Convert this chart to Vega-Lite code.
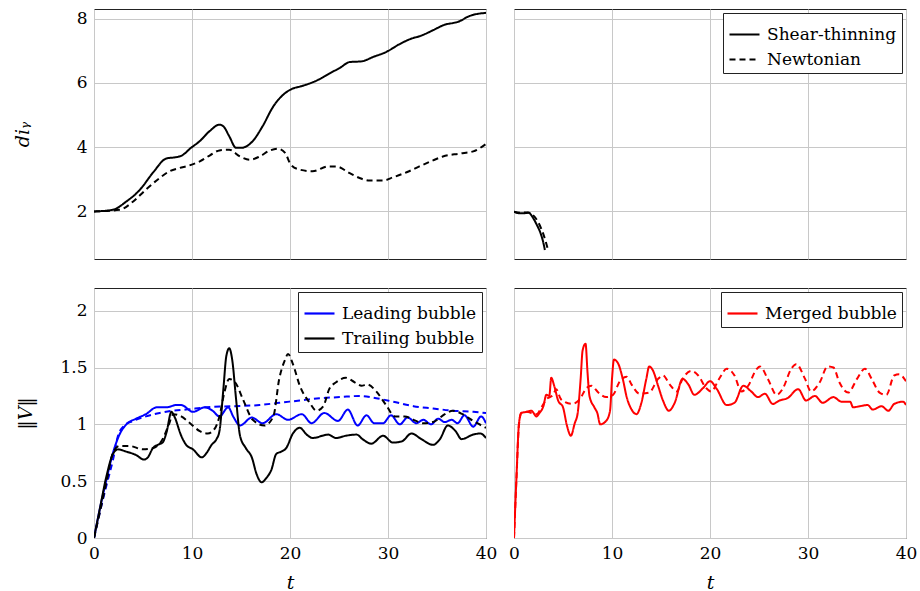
{
  "$schema": "https://vega.github.io/schema/vega-lite/v6.json",
  "padding": {"left": 12, "top": 8, "right": 2, "bottom": 2},
  "background": "white",
  "columns": 2,
  "spacing": {"row": 27, "column": 10},
  "datasets": {
    "dist_pre": [
      {"t": 0, "d": 2.0, "fluid": "Shear-thinning"},
      {"t": 1.9, "d": 2.05, "fluid": "Shear-thinning"},
      {"t": 3.3, "d": 2.31, "fluid": "Shear-thinning"},
      {"t": 4.7, "d": 2.68, "fluid": "Shear-thinning"},
      {"t": 6.0, "d": 3.2, "fluid": "Shear-thinning"},
      {"t": 7.4, "d": 3.65, "fluid": "Shear-thinning"},
      {"t": 8.4, "d": 3.69, "fluid": "Shear-thinning"},
      {"t": 8.9, "d": 3.73, "fluid": "Shear-thinning"},
      {"t": 9.9, "d": 3.98, "fluid": "Shear-thinning"},
      {"t": 10.8, "d": 4.19, "fluid": "Shear-thinning"},
      {"t": 11.8, "d": 4.5, "fluid": "Shear-thinning"},
      {"t": 12.8, "d": 4.7, "fluid": "Shear-thinning"},
      {"t": 13.2, "d": 4.65, "fluid": "Shear-thinning"},
      {"t": 13.8, "d": 4.34, "fluid": "Shear-thinning"},
      {"t": 14.5, "d": 3.98, "fluid": "Shear-thinning"},
      {"t": 15.0, "d": 3.98, "fluid": "Shear-thinning"},
      {"t": 16.2, "d": 4.19, "fluid": "Shear-thinning"},
      {"t": 17.2, "d": 4.65, "fluid": "Shear-thinning"},
      {"t": 18.3, "d": 5.27, "fluid": "Shear-thinning"},
      {"t": 19.3, "d": 5.63, "fluid": "Shear-thinning"},
      {"t": 20.1, "d": 5.8, "fluid": "Shear-thinning"},
      {"t": 21.3, "d": 5.91, "fluid": "Shear-thinning"},
      {"t": 22.7, "d": 6.07, "fluid": "Shear-thinning"},
      {"t": 24.0, "d": 6.29, "fluid": "Shear-thinning"},
      {"t": 25.1, "d": 6.47, "fluid": "Shear-thinning"},
      {"t": 26.1, "d": 6.65, "fluid": "Shear-thinning"},
      {"t": 27.3, "d": 6.67, "fluid": "Shear-thinning"},
      {"t": 28.5, "d": 6.81, "fluid": "Shear-thinning"},
      {"t": 29.8, "d": 6.96, "fluid": "Shear-thinning"},
      {"t": 31.2, "d": 7.21, "fluid": "Shear-thinning"},
      {"t": 32.4, "d": 7.38, "fluid": "Shear-thinning"},
      {"t": 33.2, "d": 7.45, "fluid": "Shear-thinning"},
      {"t": 34.6, "d": 7.64, "fluid": "Shear-thinning"},
      {"t": 35.6, "d": 7.79, "fluid": "Shear-thinning"},
      {"t": 37.3, "d": 7.92, "fluid": "Shear-thinning"},
      {"t": 38.3, "d": 8.08, "fluid": "Shear-thinning"},
      {"t": 40.0, "d": 8.18, "fluid": "Shear-thinning"},
      {"t": 0, "d": 2.0, "fluid": "Newtonian"},
      {"t": 2.6, "d": 2.05, "fluid": "Newtonian"},
      {"t": 4.0, "d": 2.31, "fluid": "Newtonian"},
      {"t": 5.3, "d": 2.68, "fluid": "Newtonian"},
      {"t": 6.7, "d": 3.04, "fluid": "Newtonian"},
      {"t": 7.7, "d": 3.25, "fluid": "Newtonian"},
      {"t": 8.7, "d": 3.35, "fluid": "Newtonian"},
      {"t": 9.7, "d": 3.43, "fluid": "Newtonian"},
      {"t": 10.8, "d": 3.56, "fluid": "Newtonian"},
      {"t": 11.8, "d": 3.74, "fluid": "Newtonian"},
      {"t": 12.8, "d": 3.9, "fluid": "Newtonian"},
      {"t": 13.8, "d": 3.92, "fluid": "Newtonian"},
      {"t": 14.9, "d": 3.71, "fluid": "Newtonian"},
      {"t": 15.9, "d": 3.61, "fluid": "Newtonian"},
      {"t": 16.9, "d": 3.71, "fluid": "Newtonian"},
      {"t": 17.9, "d": 3.89, "fluid": "Newtonian"},
      {"t": 18.8, "d": 3.95, "fluid": "Newtonian"},
      {"t": 19.5, "d": 3.82, "fluid": "Newtonian"},
      {"t": 20.1, "d": 3.45, "fluid": "Newtonian"},
      {"t": 21.0, "d": 3.3, "fluid": "Newtonian"},
      {"t": 22.3, "d": 3.25, "fluid": "Newtonian"},
      {"t": 23.9, "d": 3.4, "fluid": "Newtonian"},
      {"t": 24.7, "d": 3.4, "fluid": "Newtonian"},
      {"t": 26.1, "d": 3.19, "fluid": "Newtonian"},
      {"t": 27.1, "d": 3.04, "fluid": "Newtonian"},
      {"t": 28.1, "d": 2.96, "fluid": "Newtonian"},
      {"t": 29.5, "d": 2.96, "fluid": "Newtonian"},
      {"t": 30.5, "d": 3.06, "fluid": "Newtonian"},
      {"t": 31.9, "d": 3.22, "fluid": "Newtonian"},
      {"t": 33.2, "d": 3.4, "fluid": "Newtonian"},
      {"t": 34.6, "d": 3.59, "fluid": "Newtonian"},
      {"t": 35.6, "d": 3.71, "fluid": "Newtonian"},
      {"t": 37.3, "d": 3.8, "fluid": "Newtonian"},
      {"t": 38.7, "d": 3.87, "fluid": "Newtonian"},
      {"t": 40.0, "d": 4.1, "fluid": "Newtonian"}
    ],
    "dist_post": [
      {"t": 0, "d": 1.99, "fluid": "Shear-thinning"},
      {"t": 0.6, "d": 1.94, "fluid": "Shear-thinning"},
      {"t": 1.2, "d": 1.95, "fluid": "Shear-thinning"},
      {"t": 1.5, "d": 1.96, "fluid": "Shear-thinning"},
      {"t": 1.9, "d": 1.82, "fluid": "Shear-thinning"},
      {"t": 2.3, "d": 1.6, "fluid": "Shear-thinning"},
      {"t": 2.7, "d": 1.33, "fluid": "Shear-thinning"},
      {"t": 3.0, "d": 1.02, "fluid": "Shear-thinning"},
      {"t": 3.15, "d": 0.8, "fluid": "Shear-thinning"},
      {"t": 0, "d": 1.99, "fluid": "Newtonian"},
      {"t": 0.7, "d": 1.96, "fluid": "Newtonian"},
      {"t": 1.4, "d": 1.97, "fluid": "Newtonian"},
      {"t": 1.9, "d": 1.9, "fluid": "Newtonian"},
      {"t": 2.4, "d": 1.7, "fluid": "Newtonian"},
      {"t": 2.8, "d": 1.45, "fluid": "Newtonian"},
      {"t": 3.2, "d": 1.1, "fluid": "Newtonian"},
      {"t": 3.5, "d": 0.77, "fluid": "Newtonian"}
    ],
    "vel_pre": [
      {"t": 0, "v": 0, "bubble": "Leading bubble", "fluid": "Shear-thinning"},
      {"t": 0.58, "v": 0.25, "bubble": "Leading bubble", "fluid": "Shear-thinning"},
      {"t": 1.26, "v": 0.51, "bubble": "Leading bubble", "fluid": "Shear-thinning"},
      {"t": 1.94, "v": 0.75, "bubble": "Leading bubble", "fluid": "Shear-thinning"},
      {"t": 2.6, "v": 0.91, "bubble": "Leading bubble", "fluid": "Shear-thinning"},
      {"t": 3.3, "v": 1.0, "bubble": "Leading bubble", "fluid": "Shear-thinning"},
      {"t": 4.3, "v": 1.05, "bubble": "Leading bubble", "fluid": "Shear-thinning"},
      {"t": 5.3, "v": 1.09, "bubble": "Leading bubble", "fluid": "Shear-thinning"},
      {"t": 6.4, "v": 1.15, "bubble": "Leading bubble", "fluid": "Shear-thinning"},
      {"t": 7.4, "v": 1.15, "bubble": "Leading bubble", "fluid": "Shear-thinning"},
      {"t": 8.4, "v": 1.17, "bubble": "Leading bubble", "fluid": "Shear-thinning"},
      {"t": 8.9, "v": 1.17, "bubble": "Leading bubble", "fluid": "Shear-thinning"},
      {"t": 10.1, "v": 1.11, "bubble": "Leading bubble", "fluid": "Shear-thinning"},
      {"t": 11.3, "v": 1.15, "bubble": "Leading bubble", "fluid": "Shear-thinning"},
      {"t": 12.1, "v": 1.12, "bubble": "Leading bubble", "fluid": "Shear-thinning"},
      {"t": 12.8, "v": 1.07, "bubble": "Leading bubble", "fluid": "Shear-thinning"},
      {"t": 13.7, "v": 1.15, "bubble": "Leading bubble", "fluid": "Shear-thinning"},
      {"t": 14.2, "v": 1.07, "bubble": "Leading bubble", "fluid": "Shear-thinning"},
      {"t": 14.9, "v": 0.99, "bubble": "Leading bubble", "fluid": "Shear-thinning"},
      {"t": 16.1, "v": 1.06, "bubble": "Leading bubble", "fluid": "Shear-thinning"},
      {"t": 17.2, "v": 1.01, "bubble": "Leading bubble", "fluid": "Shear-thinning"},
      {"t": 18.6, "v": 1.09, "bubble": "Leading bubble", "fluid": "Shear-thinning"},
      {"t": 19.8, "v": 1.04, "bubble": "Leading bubble", "fluid": "Shear-thinning"},
      {"t": 21.2, "v": 1.09, "bubble": "Leading bubble", "fluid": "Shear-thinning"},
      {"t": 22.2, "v": 1.01, "bubble": "Leading bubble", "fluid": "Shear-thinning"},
      {"t": 23.5, "v": 1.1, "bubble": "Leading bubble", "fluid": "Shear-thinning"},
      {"t": 24.9, "v": 1.03, "bubble": "Leading bubble", "fluid": "Shear-thinning"},
      {"t": 25.9, "v": 1.13, "bubble": "Leading bubble", "fluid": "Shear-thinning"},
      {"t": 26.9, "v": 0.99, "bubble": "Leading bubble", "fluid": "Shear-thinning"},
      {"t": 27.8, "v": 1.08, "bubble": "Leading bubble", "fluid": "Shear-thinning"},
      {"t": 28.6, "v": 1.01, "bubble": "Leading bubble", "fluid": "Shear-thinning"},
      {"t": 29.5, "v": 1.01, "bubble": "Leading bubble", "fluid": "Shear-thinning"},
      {"t": 30.3, "v": 1.08, "bubble": "Leading bubble", "fluid": "Shear-thinning"},
      {"t": 31.2, "v": 1.0, "bubble": "Leading bubble", "fluid": "Shear-thinning"},
      {"t": 32.0, "v": 1.06, "bubble": "Leading bubble", "fluid": "Shear-thinning"},
      {"t": 32.9, "v": 1.01, "bubble": "Leading bubble", "fluid": "Shear-thinning"},
      {"t": 33.6, "v": 1.04, "bubble": "Leading bubble", "fluid": "Shear-thinning"},
      {"t": 34.4, "v": 1.0, "bubble": "Leading bubble", "fluid": "Shear-thinning"},
      {"t": 35.1, "v": 1.05, "bubble": "Leading bubble", "fluid": "Shear-thinning"},
      {"t": 35.8, "v": 1.02, "bubble": "Leading bubble", "fluid": "Shear-thinning"},
      {"t": 36.5, "v": 1.04, "bubble": "Leading bubble", "fluid": "Shear-thinning"},
      {"t": 37.1, "v": 1.01, "bubble": "Leading bubble", "fluid": "Shear-thinning"},
      {"t": 37.8, "v": 1.08, "bubble": "Leading bubble", "fluid": "Shear-thinning"},
      {"t": 38.7, "v": 0.98, "bubble": "Leading bubble", "fluid": "Shear-thinning"},
      {"t": 39.5, "v": 1.07, "bubble": "Leading bubble", "fluid": "Shear-thinning"},
      {"t": 40.0, "v": 1.01, "bubble": "Leading bubble", "fluid": "Shear-thinning"},
      {"t": 0, "v": 0, "bubble": "Leading bubble", "fluid": "Newtonian"},
      {"t": 0.58, "v": 0.22, "bubble": "Leading bubble", "fluid": "Newtonian"},
      {"t": 1.26, "v": 0.46, "bubble": "Leading bubble", "fluid": "Newtonian"},
      {"t": 1.94, "v": 0.69, "bubble": "Leading bubble", "fluid": "Newtonian"},
      {"t": 2.45, "v": 0.9, "bubble": "Leading bubble", "fluid": "Newtonian"},
      {"t": 3.1, "v": 0.99, "bubble": "Leading bubble", "fluid": "Newtonian"},
      {"t": 4.0, "v": 1.03, "bubble": "Leading bubble", "fluid": "Newtonian"},
      {"t": 5.3, "v": 1.07, "bubble": "Leading bubble", "fluid": "Newtonian"},
      {"t": 6.7, "v": 1.1, "bubble": "Leading bubble", "fluid": "Newtonian"},
      {"t": 8.1, "v": 1.12, "bubble": "Leading bubble", "fluid": "Newtonian"},
      {"t": 9.4, "v": 1.13, "bubble": "Leading bubble", "fluid": "Newtonian"},
      {"t": 11.5, "v": 1.15, "bubble": "Leading bubble", "fluid": "Newtonian"},
      {"t": 14.2, "v": 1.16, "bubble": "Leading bubble", "fluid": "Newtonian"},
      {"t": 16.9, "v": 1.17, "bubble": "Leading bubble", "fluid": "Newtonian"},
      {"t": 18.9, "v": 1.19, "bubble": "Leading bubble", "fluid": "Newtonian"},
      {"t": 21.0, "v": 1.21, "bubble": "Leading bubble", "fluid": "Newtonian"},
      {"t": 23.0, "v": 1.23, "bubble": "Leading bubble", "fluid": "Newtonian"},
      {"t": 25.1, "v": 1.24, "bubble": "Leading bubble", "fluid": "Newtonian"},
      {"t": 27.1, "v": 1.25, "bubble": "Leading bubble", "fluid": "Newtonian"},
      {"t": 28.8, "v": 1.23, "bubble": "Leading bubble", "fluid": "Newtonian"},
      {"t": 30.5, "v": 1.2, "bubble": "Leading bubble", "fluid": "Newtonian"},
      {"t": 32.6, "v": 1.16, "bubble": "Leading bubble", "fluid": "Newtonian"},
      {"t": 34.6, "v": 1.14, "bubble": "Leading bubble", "fluid": "Newtonian"},
      {"t": 36.6, "v": 1.12, "bubble": "Leading bubble", "fluid": "Newtonian"},
      {"t": 38.7, "v": 1.11, "bubble": "Leading bubble", "fluid": "Newtonian"},
      {"t": 40.0, "v": 1.1, "bubble": "Leading bubble", "fluid": "Newtonian"},
      {"t": 0, "v": 0, "bubble": "Trailing bubble", "fluid": "Shear-thinning"},
      {"t": 0.58, "v": 0.25, "bubble": "Trailing bubble", "fluid": "Shear-thinning"},
      {"t": 1.26, "v": 0.54, "bubble": "Trailing bubble", "fluid": "Shear-thinning"},
      {"t": 1.94, "v": 0.74, "bubble": "Trailing bubble", "fluid": "Shear-thinning"},
      {"t": 2.45, "v": 0.78, "bubble": "Trailing bubble", "fluid": "Shear-thinning"},
      {"t": 3.3, "v": 0.76, "bubble": "Trailing bubble", "fluid": "Shear-thinning"},
      {"t": 4.3, "v": 0.73, "bubble": "Trailing bubble", "fluid": "Shear-thinning"},
      {"t": 5.1, "v": 0.69, "bubble": "Trailing bubble", "fluid": "Shear-thinning"},
      {"t": 5.5, "v": 0.71, "bubble": "Trailing bubble", "fluid": "Shear-thinning"},
      {"t": 6.0, "v": 0.79, "bubble": "Trailing bubble", "fluid": "Shear-thinning"},
      {"t": 6.5, "v": 0.82, "bubble": "Trailing bubble", "fluid": "Shear-thinning"},
      {"t": 7.0, "v": 0.84, "bubble": "Trailing bubble", "fluid": "Shear-thinning"},
      {"t": 7.4, "v": 0.93, "bubble": "Trailing bubble", "fluid": "Shear-thinning"},
      {"t": 7.9, "v": 1.11, "bubble": "Trailing bubble", "fluid": "Shear-thinning"},
      {"t": 8.2, "v": 1.07, "bubble": "Trailing bubble", "fluid": "Shear-thinning"},
      {"t": 8.9, "v": 0.9, "bubble": "Trailing bubble", "fluid": "Shear-thinning"},
      {"t": 9.4, "v": 0.82, "bubble": "Trailing bubble", "fluid": "Shear-thinning"},
      {"t": 10.1, "v": 0.78, "bubble": "Trailing bubble", "fluid": "Shear-thinning"},
      {"t": 11.0, "v": 0.71, "bubble": "Trailing bubble", "fluid": "Shear-thinning"},
      {"t": 11.5, "v": 0.75, "bubble": "Trailing bubble", "fluid": "Shear-thinning"},
      {"t": 12.0, "v": 0.82, "bubble": "Trailing bubble", "fluid": "Shear-thinning"},
      {"t": 12.5, "v": 0.87, "bubble": "Trailing bubble", "fluid": "Shear-thinning"},
      {"t": 12.8, "v": 0.94, "bubble": "Trailing bubble", "fluid": "Shear-thinning"},
      {"t": 13.2, "v": 1.31, "bubble": "Trailing bubble", "fluid": "Shear-thinning"},
      {"t": 13.5, "v": 1.6, "bubble": "Trailing bubble", "fluid": "Shear-thinning"},
      {"t": 13.8, "v": 1.67, "bubble": "Trailing bubble", "fluid": "Shear-thinning"},
      {"t": 14.1, "v": 1.57, "bubble": "Trailing bubble", "fluid": "Shear-thinning"},
      {"t": 14.5, "v": 1.22, "bubble": "Trailing bubble", "fluid": "Shear-thinning"},
      {"t": 14.9, "v": 0.9, "bubble": "Trailing bubble", "fluid": "Shear-thinning"},
      {"t": 15.5, "v": 0.79, "bubble": "Trailing bubble", "fluid": "Shear-thinning"},
      {"t": 16.1, "v": 0.71, "bubble": "Trailing bubble", "fluid": "Shear-thinning"},
      {"t": 16.6, "v": 0.56, "bubble": "Trailing bubble", "fluid": "Shear-thinning"},
      {"t": 17.1, "v": 0.49, "bubble": "Trailing bubble", "fluid": "Shear-thinning"},
      {"t": 17.6, "v": 0.53, "bubble": "Trailing bubble", "fluid": "Shear-thinning"},
      {"t": 18.1, "v": 0.6, "bubble": "Trailing bubble", "fluid": "Shear-thinning"},
      {"t": 18.6, "v": 0.74, "bubble": "Trailing bubble", "fluid": "Shear-thinning"},
      {"t": 19.1, "v": 0.76, "bubble": "Trailing bubble", "fluid": "Shear-thinning"},
      {"t": 19.6, "v": 0.79, "bubble": "Trailing bubble", "fluid": "Shear-thinning"},
      {"t": 20.3, "v": 0.92, "bubble": "Trailing bubble", "fluid": "Shear-thinning"},
      {"t": 21.0, "v": 0.97, "bubble": "Trailing bubble", "fluid": "Shear-thinning"},
      {"t": 21.7, "v": 0.91, "bubble": "Trailing bubble", "fluid": "Shear-thinning"},
      {"t": 22.3, "v": 0.88, "bubble": "Trailing bubble", "fluid": "Shear-thinning"},
      {"t": 23.9, "v": 0.91, "bubble": "Trailing bubble", "fluid": "Shear-thinning"},
      {"t": 24.7, "v": 0.88, "bubble": "Trailing bubble", "fluid": "Shear-thinning"},
      {"t": 25.7, "v": 0.9, "bubble": "Trailing bubble", "fluid": "Shear-thinning"},
      {"t": 26.8, "v": 0.91, "bubble": "Trailing bubble", "fluid": "Shear-thinning"},
      {"t": 27.4, "v": 0.87, "bubble": "Trailing bubble", "fluid": "Shear-thinning"},
      {"t": 28.3, "v": 0.83, "bubble": "Trailing bubble", "fluid": "Shear-thinning"},
      {"t": 29.5, "v": 0.9, "bubble": "Trailing bubble", "fluid": "Shear-thinning"},
      {"t": 30.5, "v": 0.84, "bubble": "Trailing bubble", "fluid": "Shear-thinning"},
      {"t": 31.4, "v": 0.85, "bubble": "Trailing bubble", "fluid": "Shear-thinning"},
      {"t": 32.4, "v": 0.92, "bubble": "Trailing bubble", "fluid": "Shear-thinning"},
      {"t": 33.4, "v": 0.87, "bubble": "Trailing bubble", "fluid": "Shear-thinning"},
      {"t": 34.6, "v": 0.82, "bubble": "Trailing bubble", "fluid": "Shear-thinning"},
      {"t": 35.3, "v": 0.87, "bubble": "Trailing bubble", "fluid": "Shear-thinning"},
      {"t": 36.1, "v": 0.99, "bubble": "Trailing bubble", "fluid": "Shear-thinning"},
      {"t": 36.9, "v": 0.94, "bubble": "Trailing bubble", "fluid": "Shear-thinning"},
      {"t": 37.5, "v": 0.87, "bubble": "Trailing bubble", "fluid": "Shear-thinning"},
      {"t": 38.7, "v": 0.91, "bubble": "Trailing bubble", "fluid": "Shear-thinning"},
      {"t": 39.4, "v": 0.92, "bubble": "Trailing bubble", "fluid": "Shear-thinning"},
      {"t": 40.0, "v": 0.88, "bubble": "Trailing bubble", "fluid": "Shear-thinning"},
      {"t": 0, "v": 0, "bubble": "Trailing bubble", "fluid": "Newtonian"},
      {"t": 0.58, "v": 0.22, "bubble": "Trailing bubble", "fluid": "Newtonian"},
      {"t": 1.26, "v": 0.49, "bubble": "Trailing bubble", "fluid": "Newtonian"},
      {"t": 1.94, "v": 0.75, "bubble": "Trailing bubble", "fluid": "Newtonian"},
      {"t": 2.6, "v": 0.81, "bubble": "Trailing bubble", "fluid": "Newtonian"},
      {"t": 3.6, "v": 0.81, "bubble": "Trailing bubble", "fluid": "Newtonian"},
      {"t": 5.0, "v": 0.78, "bubble": "Trailing bubble", "fluid": "Newtonian"},
      {"t": 6.0, "v": 0.79, "bubble": "Trailing bubble", "fluid": "Newtonian"},
      {"t": 7.0, "v": 0.87, "bubble": "Trailing bubble", "fluid": "Newtonian"},
      {"t": 7.6, "v": 0.99, "bubble": "Trailing bubble", "fluid": "Newtonian"},
      {"t": 8.1, "v": 1.09, "bubble": "Trailing bubble", "fluid": "Newtonian"},
      {"t": 8.9, "v": 1.07, "bubble": "Trailing bubble", "fluid": "Newtonian"},
      {"t": 9.8, "v": 1.01, "bubble": "Trailing bubble", "fluid": "Newtonian"},
      {"t": 10.8, "v": 0.94, "bubble": "Trailing bubble", "fluid": "Newtonian"},
      {"t": 11.6, "v": 0.92, "bubble": "Trailing bubble", "fluid": "Newtonian"},
      {"t": 12.3, "v": 0.96, "bubble": "Trailing bubble", "fluid": "Newtonian"},
      {"t": 12.8, "v": 1.07, "bubble": "Trailing bubble", "fluid": "Newtonian"},
      {"t": 13.3, "v": 1.28, "bubble": "Trailing bubble", "fluid": "Newtonian"},
      {"t": 13.8, "v": 1.4, "bubble": "Trailing bubble", "fluid": "Newtonian"},
      {"t": 14.4, "v": 1.37, "bubble": "Trailing bubble", "fluid": "Newtonian"},
      {"t": 15.2, "v": 1.22, "bubble": "Trailing bubble", "fluid": "Newtonian"},
      {"t": 16.2, "v": 1.04, "bubble": "Trailing bubble", "fluid": "Newtonian"},
      {"t": 17.4, "v": 0.99, "bubble": "Trailing bubble", "fluid": "Newtonian"},
      {"t": 18.3, "v": 1.07, "bubble": "Trailing bubble", "fluid": "Newtonian"},
      {"t": 18.9, "v": 1.4, "bubble": "Trailing bubble", "fluid": "Newtonian"},
      {"t": 19.5, "v": 1.57, "bubble": "Trailing bubble", "fluid": "Newtonian"},
      {"t": 19.8, "v": 1.62, "bubble": "Trailing bubble", "fluid": "Newtonian"},
      {"t": 20.3, "v": 1.53, "bubble": "Trailing bubble", "fluid": "Newtonian"},
      {"t": 21.0, "v": 1.34, "bubble": "Trailing bubble", "fluid": "Newtonian"},
      {"t": 22.0, "v": 1.19, "bubble": "Trailing bubble", "fluid": "Newtonian"},
      {"t": 22.7, "v": 1.12, "bubble": "Trailing bubble", "fluid": "Newtonian"},
      {"t": 23.4, "v": 1.16, "bubble": "Trailing bubble", "fluid": "Newtonian"},
      {"t": 24.0, "v": 1.31, "bubble": "Trailing bubble", "fluid": "Newtonian"},
      {"t": 24.7, "v": 1.37, "bubble": "Trailing bubble", "fluid": "Newtonian"},
      {"t": 25.7, "v": 1.41, "bubble": "Trailing bubble", "fluid": "Newtonian"},
      {"t": 26.6, "v": 1.37, "bubble": "Trailing bubble", "fluid": "Newtonian"},
      {"t": 27.3, "v": 1.34, "bubble": "Trailing bubble", "fluid": "Newtonian"},
      {"t": 27.9, "v": 1.35, "bubble": "Trailing bubble", "fluid": "Newtonian"},
      {"t": 28.8, "v": 1.29, "bubble": "Trailing bubble", "fluid": "Newtonian"},
      {"t": 29.8, "v": 1.17, "bubble": "Trailing bubble", "fluid": "Newtonian"},
      {"t": 30.7, "v": 1.07, "bubble": "Trailing bubble", "fluid": "Newtonian"},
      {"t": 31.7, "v": 1.07, "bubble": "Trailing bubble", "fluid": "Newtonian"},
      {"t": 32.6, "v": 1.04, "bubble": "Trailing bubble", "fluid": "Newtonian"},
      {"t": 33.6, "v": 1.01, "bubble": "Trailing bubble", "fluid": "Newtonian"},
      {"t": 34.6, "v": 1.02, "bubble": "Trailing bubble", "fluid": "Newtonian"},
      {"t": 35.8, "v": 1.09, "bubble": "Trailing bubble", "fluid": "Newtonian"},
      {"t": 36.6, "v": 1.12, "bubble": "Trailing bubble", "fluid": "Newtonian"},
      {"t": 37.6, "v": 1.09, "bubble": "Trailing bubble", "fluid": "Newtonian"},
      {"t": 38.7, "v": 1.03, "bubble": "Trailing bubble", "fluid": "Newtonian"},
      {"t": 40.0, "v": 0.97, "bubble": "Trailing bubble", "fluid": "Newtonian"}
    ],
    "vel_post": [
      {"t": 0, "v": 0, "bubble": "Merged bubble", "fluid": "Shear-thinning"},
      {"t": 0.24, "v": 0.51, "bubble": "Merged bubble", "fluid": "Shear-thinning"},
      {"t": 0.51, "v": 1.01, "bubble": "Merged bubble", "fluid": "Shear-thinning"},
      {"t": 0.75, "v": 1.1, "bubble": "Merged bubble", "fluid": "Shear-thinning"},
      {"t": 1.26, "v": 1.11, "bubble": "Merged bubble", "fluid": "Shear-thinning"},
      {"t": 1.77, "v": 1.12, "bubble": "Merged bubble", "fluid": "Shear-thinning"},
      {"t": 2.3, "v": 1.07, "bubble": "Merged bubble", "fluid": "Shear-thinning"},
      {"t": 2.6, "v": 1.1, "bubble": "Merged bubble", "fluid": "Shear-thinning"},
      {"t": 3.0, "v": 1.16, "bubble": "Merged bubble", "fluid": "Shear-thinning"},
      {"t": 3.3, "v": 1.26, "bubble": "Merged bubble", "fluid": "Shear-thinning"},
      {"t": 3.6, "v": 1.25, "bubble": "Merged bubble", "fluid": "Shear-thinning"},
      {"t": 3.8, "v": 1.41, "bubble": "Merged bubble", "fluid": "Shear-thinning"},
      {"t": 4.1, "v": 1.34, "bubble": "Merged bubble", "fluid": "Shear-thinning"},
      {"t": 4.5, "v": 1.21, "bubble": "Merged bubble", "fluid": "Shear-thinning"},
      {"t": 5.0, "v": 1.15, "bubble": "Merged bubble", "fluid": "Shear-thinning"},
      {"t": 5.4, "v": 0.99, "bubble": "Merged bubble", "fluid": "Shear-thinning"},
      {"t": 5.8, "v": 0.9, "bubble": "Merged bubble", "fluid": "Shear-thinning"},
      {"t": 6.2, "v": 1.01, "bubble": "Merged bubble", "fluid": "Shear-thinning"},
      {"t": 6.5, "v": 1.1, "bubble": "Merged bubble", "fluid": "Shear-thinning"},
      {"t": 6.8, "v": 1.4, "bubble": "Merged bubble", "fluid": "Shear-thinning"},
      {"t": 7.0, "v": 1.65, "bubble": "Merged bubble", "fluid": "Shear-thinning"},
      {"t": 7.3, "v": 1.71, "bubble": "Merged bubble", "fluid": "Shear-thinning"},
      {"t": 7.5, "v": 1.46, "bubble": "Merged bubble", "fluid": "Shear-thinning"},
      {"t": 7.7, "v": 1.25, "bubble": "Merged bubble", "fluid": "Shear-thinning"},
      {"t": 8.2, "v": 1.15, "bubble": "Merged bubble", "fluid": "Shear-thinning"},
      {"t": 8.5, "v": 1.1, "bubble": "Merged bubble", "fluid": "Shear-thinning"},
      {"t": 8.8, "v": 1.0, "bubble": "Merged bubble", "fluid": "Shear-thinning"},
      {"t": 9.4, "v": 1.03, "bubble": "Merged bubble", "fluid": "Shear-thinning"},
      {"t": 9.8, "v": 1.12, "bubble": "Merged bubble", "fluid": "Shear-thinning"},
      {"t": 10.0, "v": 1.4, "bubble": "Merged bubble", "fluid": "Shear-thinning"},
      {"t": 10.2, "v": 1.57, "bubble": "Merged bubble", "fluid": "Shear-thinning"},
      {"t": 10.6, "v": 1.54, "bubble": "Merged bubble", "fluid": "Shear-thinning"},
      {"t": 11.1, "v": 1.4, "bubble": "Merged bubble", "fluid": "Shear-thinning"},
      {"t": 11.5, "v": 1.24, "bubble": "Merged bubble", "fluid": "Shear-thinning"},
      {"t": 12.0, "v": 1.13, "bubble": "Merged bubble", "fluid": "Shear-thinning"},
      {"t": 12.5, "v": 1.09, "bubble": "Merged bubble", "fluid": "Shear-thinning"},
      {"t": 13.0, "v": 1.19, "bubble": "Merged bubble", "fluid": "Shear-thinning"},
      {"t": 13.5, "v": 1.4, "bubble": "Merged bubble", "fluid": "Shear-thinning"},
      {"t": 13.8, "v": 1.51, "bubble": "Merged bubble", "fluid": "Shear-thinning"},
      {"t": 14.2, "v": 1.47, "bubble": "Merged bubble", "fluid": "Shear-thinning"},
      {"t": 14.7, "v": 1.34, "bubble": "Merged bubble", "fluid": "Shear-thinning"},
      {"t": 15.2, "v": 1.21, "bubble": "Merged bubble", "fluid": "Shear-thinning"},
      {"t": 15.8, "v": 1.12, "bubble": "Merged bubble", "fluid": "Shear-thinning"},
      {"t": 16.4, "v": 1.19, "bubble": "Merged bubble", "fluid": "Shear-thinning"},
      {"t": 17.2, "v": 1.4, "bubble": "Merged bubble", "fluid": "Shear-thinning"},
      {"t": 17.8, "v": 1.35, "bubble": "Merged bubble", "fluid": "Shear-thinning"},
      {"t": 18.4, "v": 1.26, "bubble": "Merged bubble", "fluid": "Shear-thinning"},
      {"t": 19.3, "v": 1.32, "bubble": "Merged bubble", "fluid": "Shear-thinning"},
      {"t": 20.0, "v": 1.38, "bubble": "Merged bubble", "fluid": "Shear-thinning"},
      {"t": 20.7, "v": 1.31, "bubble": "Merged bubble", "fluid": "Shear-thinning"},
      {"t": 21.7, "v": 1.17, "bubble": "Merged bubble", "fluid": "Shear-thinning"},
      {"t": 22.5, "v": 1.19, "bubble": "Merged bubble", "fluid": "Shear-thinning"},
      {"t": 23.4, "v": 1.34, "bubble": "Merged bubble", "fluid": "Shear-thinning"},
      {"t": 24.2, "v": 1.29, "bubble": "Merged bubble", "fluid": "Shear-thinning"},
      {"t": 24.9, "v": 1.24, "bubble": "Merged bubble", "fluid": "Shear-thinning"},
      {"t": 25.6, "v": 1.27, "bubble": "Merged bubble", "fluid": "Shear-thinning"},
      {"t": 26.4, "v": 1.18, "bubble": "Merged bubble", "fluid": "Shear-thinning"},
      {"t": 27.1, "v": 1.21, "bubble": "Merged bubble", "fluid": "Shear-thinning"},
      {"t": 27.9, "v": 1.23, "bubble": "Merged bubble", "fluid": "Shear-thinning"},
      {"t": 29.0, "v": 1.31, "bubble": "Merged bubble", "fluid": "Shear-thinning"},
      {"t": 29.8, "v": 1.21, "bubble": "Merged bubble", "fluid": "Shear-thinning"},
      {"t": 30.7, "v": 1.25, "bubble": "Merged bubble", "fluid": "Shear-thinning"},
      {"t": 31.5, "v": 1.19, "bubble": "Merged bubble", "fluid": "Shear-thinning"},
      {"t": 32.6, "v": 1.24, "bubble": "Merged bubble", "fluid": "Shear-thinning"},
      {"t": 33.4, "v": 1.2, "bubble": "Merged bubble", "fluid": "Shear-thinning"},
      {"t": 34.3, "v": 1.2, "bubble": "Merged bubble", "fluid": "Shear-thinning"},
      {"t": 34.6, "v": 1.15, "bubble": "Merged bubble", "fluid": "Shear-thinning"},
      {"t": 35.3, "v": 1.16, "bubble": "Merged bubble", "fluid": "Shear-thinning"},
      {"t": 36.1, "v": 1.17, "bubble": "Merged bubble", "fluid": "Shear-thinning"},
      {"t": 36.6, "v": 1.13, "bubble": "Merged bubble", "fluid": "Shear-thinning"},
      {"t": 37.5, "v": 1.16, "bubble": "Merged bubble", "fluid": "Shear-thinning"},
      {"t": 38.2, "v": 1.12, "bubble": "Merged bubble", "fluid": "Shear-thinning"},
      {"t": 38.8, "v": 1.18, "bubble": "Merged bubble", "fluid": "Shear-thinning"},
      {"t": 39.7, "v": 1.2, "bubble": "Merged bubble", "fluid": "Shear-thinning"},
      {"t": 40.0, "v": 1.17, "bubble": "Merged bubble", "fluid": "Shear-thinning"},
      {"t": 0, "v": 0, "bubble": "Merged bubble", "fluid": "Newtonian"},
      {"t": 0.24, "v": 0.5, "bubble": "Merged bubble", "fluid": "Newtonian"},
      {"t": 0.51, "v": 1.0, "bubble": "Merged bubble", "fluid": "Newtonian"},
      {"t": 0.75, "v": 1.1, "bubble": "Merged bubble", "fluid": "Newtonian"},
      {"t": 1.26, "v": 1.11, "bubble": "Merged bubble", "fluid": "Newtonian"},
      {"t": 2.3, "v": 1.09, "bubble": "Merged bubble", "fluid": "Newtonian"},
      {"t": 2.8, "v": 1.15, "bubble": "Merged bubble", "fluid": "Newtonian"},
      {"t": 3.3, "v": 1.22, "bubble": "Merged bubble", "fluid": "Newtonian"},
      {"t": 4.0, "v": 1.26, "bubble": "Merged bubble", "fluid": "Newtonian"},
      {"t": 4.3, "v": 1.31, "bubble": "Merged bubble", "fluid": "Newtonian"},
      {"t": 4.8, "v": 1.22, "bubble": "Merged bubble", "fluid": "Newtonian"},
      {"t": 5.9, "v": 1.18, "bubble": "Merged bubble", "fluid": "Newtonian"},
      {"t": 6.7, "v": 1.22, "bubble": "Merged bubble", "fluid": "Newtonian"},
      {"t": 7.4, "v": 1.32, "bubble": "Merged bubble", "fluid": "Newtonian"},
      {"t": 7.9, "v": 1.34, "bubble": "Merged bubble", "fluid": "Newtonian"},
      {"t": 8.6, "v": 1.28, "bubble": "Merged bubble", "fluid": "Newtonian"},
      {"t": 9.4, "v": 1.24, "bubble": "Merged bubble", "fluid": "Newtonian"},
      {"t": 10.1, "v": 1.26, "bubble": "Merged bubble", "fluid": "Newtonian"},
      {"t": 10.8, "v": 1.38, "bubble": "Merged bubble", "fluid": "Newtonian"},
      {"t": 11.5, "v": 1.42, "bubble": "Merged bubble", "fluid": "Newtonian"},
      {"t": 12.0, "v": 1.35, "bubble": "Merged bubble", "fluid": "Newtonian"},
      {"t": 12.8, "v": 1.27, "bubble": "Merged bubble", "fluid": "Newtonian"},
      {"t": 13.8, "v": 1.28, "bubble": "Merged bubble", "fluid": "Newtonian"},
      {"t": 14.7, "v": 1.4, "bubble": "Merged bubble", "fluid": "Newtonian"},
      {"t": 15.2, "v": 1.43, "bubble": "Merged bubble", "fluid": "Newtonian"},
      {"t": 15.9, "v": 1.35, "bubble": "Merged bubble", "fluid": "Newtonian"},
      {"t": 16.6, "v": 1.29, "bubble": "Merged bubble", "fluid": "Newtonian"},
      {"t": 17.2, "v": 1.4, "bubble": "Merged bubble", "fluid": "Newtonian"},
      {"t": 18.1, "v": 1.47, "bubble": "Merged bubble", "fluid": "Newtonian"},
      {"t": 18.8, "v": 1.43, "bubble": "Merged bubble", "fluid": "Newtonian"},
      {"t": 19.6, "v": 1.32, "bubble": "Merged bubble", "fluid": "Newtonian"},
      {"t": 20.1, "v": 1.29, "bubble": "Merged bubble", "fluid": "Newtonian"},
      {"t": 21.0, "v": 1.41, "bubble": "Merged bubble", "fluid": "Newtonian"},
      {"t": 21.7, "v": 1.49, "bubble": "Merged bubble", "fluid": "Newtonian"},
      {"t": 22.5, "v": 1.43, "bubble": "Merged bubble", "fluid": "Newtonian"},
      {"t": 23.2, "v": 1.29, "bubble": "Merged bubble", "fluid": "Newtonian"},
      {"t": 23.9, "v": 1.34, "bubble": "Merged bubble", "fluid": "Newtonian"},
      {"t": 24.7, "v": 1.48, "bubble": "Merged bubble", "fluid": "Newtonian"},
      {"t": 25.1, "v": 1.51, "bubble": "Merged bubble", "fluid": "Newtonian"},
      {"t": 25.9, "v": 1.4, "bubble": "Merged bubble", "fluid": "Newtonian"},
      {"t": 26.8, "v": 1.26, "bubble": "Merged bubble", "fluid": "Newtonian"},
      {"t": 27.4, "v": 1.31, "bubble": "Merged bubble", "fluid": "Newtonian"},
      {"t": 28.3, "v": 1.49, "bubble": "Merged bubble", "fluid": "Newtonian"},
      {"t": 28.8, "v": 1.53, "bubble": "Merged bubble", "fluid": "Newtonian"},
      {"t": 29.7, "v": 1.4, "bubble": "Merged bubble", "fluid": "Newtonian"},
      {"t": 30.3, "v": 1.29, "bubble": "Merged bubble", "fluid": "Newtonian"},
      {"t": 31.2, "v": 1.37, "bubble": "Merged bubble", "fluid": "Newtonian"},
      {"t": 32.0, "v": 1.51, "bubble": "Merged bubble", "fluid": "Newtonian"},
      {"t": 32.6, "v": 1.5, "bubble": "Merged bubble", "fluid": "Newtonian"},
      {"t": 33.2, "v": 1.37, "bubble": "Merged bubble", "fluid": "Newtonian"},
      {"t": 34.1, "v": 1.28, "bubble": "Merged bubble", "fluid": "Newtonian"},
      {"t": 35.0, "v": 1.4, "bubble": "Merged bubble", "fluid": "Newtonian"},
      {"t": 35.8, "v": 1.49, "bubble": "Merged bubble", "fluid": "Newtonian"},
      {"t": 36.5, "v": 1.4, "bubble": "Merged bubble", "fluid": "Newtonian"},
      {"t": 37.3, "v": 1.28, "bubble": "Merged bubble", "fluid": "Newtonian"},
      {"t": 38.0, "v": 1.26, "bubble": "Merged bubble", "fluid": "Newtonian"},
      {"t": 38.8, "v": 1.43, "bubble": "Merged bubble", "fluid": "Newtonian"},
      {"t": 39.3, "v": 1.44, "bubble": "Merged bubble", "fluid": "Newtonian"},
      {"t": 40.0, "v": 1.38, "bubble": "Merged bubble", "fluid": "Newtonian"}
    ]
  },
  "concat": [
    {
      "width": 392, "height": 250,
      "data": {"name": "dist_pre"},
      "mark": {"type": "line", "strokeWidth": 2, "color": "black", "clip": true, "interpolate": "monotone"},
      "encoding": {
        "x": {"field": "t", "type": "quantitative", "scale": {"domain": [0, 40], "nice": false}, "axis": {"values": [0, 10, 20, 30, 40], "labels": false, "title": null}},
        "y": {"field": "d", "type": "quantitative", "scale": {"domain": [0.52, 8.3], "nice": false, "zero": false}, "axis": {"values": [2, 4, 6, 8], "format": "~g", "title": "diᵧ", "titleX": -72}},
        "strokeDash": {"field": "fluid", "type": "nominal", "scale": {"domain": ["Shear-thinning", "Newtonian"], "range": [[1, 0], [6, 4]]}, "legend": null}
      }
    },
    {
      "width": 392, "height": 250,
      "data": {"name": "dist_post"},
      "mark": {"type": "line", "strokeWidth": 2, "color": "black", "clip": true, "interpolate": "monotone"},
      "encoding": {
        "x": {"field": "t", "type": "quantitative", "scale": {"domain": [0, 40], "nice": false}, "axis": {"values": [0, 10, 20, 30, 40], "labels": false, "title": null}},
        "y": {"field": "d", "type": "quantitative", "scale": {"domain": [0.52, 8.3], "nice": false, "zero": false}, "axis": {"values": [2, 4, 6, 8], "labels": false, "title": null}},
        "strokeDash": {"field": "fluid", "type": "nominal", "title": null, "scale": {"domain": ["Shear-thinning", "Newtonian"], "range": [[1, 0], [6, 4]]}, "legend": {"symbolStrokeColor": "black"}}
      }
    },
    {
      "width": 392, "height": 250,
      "data": {"name": "vel_pre"},
      "mark": {"type": "line", "strokeWidth": 2, "clip": true, "interpolate": "monotone"},
      "encoding": {
        "x": {"field": "t", "type": "quantitative", "scale": {"domain": [0, 40], "nice": false}, "axis": {"values": [0, 10, 20, 30, 40], "title": "t", "titleY": 44}},
        "y": {"field": "v", "type": "quantitative", "scale": {"domain": [0, 2.2], "nice": false}, "axis": {"values": [0, 0.5, 1, 1.5, 2], "format": "~g", "title": "‖V‖", "titleX": -69}},
        "color": {"field": "bubble", "type": "nominal", "title": null, "scale": {"domain": ["Leading bubble", "Trailing bubble"], "range": ["#0000ff", "#000000"]}},
        "strokeDash": {"field": "fluid", "type": "nominal", "scale": {"domain": ["Shear-thinning", "Newtonian"], "range": [[1, 0], [6, 4]]}, "legend": null}
      }
    },
    {
      "width": 392, "height": 250,
      "data": {"name": "vel_post"},
      "mark": {"type": "line", "strokeWidth": 2, "clip": true, "interpolate": "monotone"},
      "encoding": {
        "x": {"field": "t", "type": "quantitative", "scale": {"domain": [0, 40], "nice": false}, "axis": {"values": [0, 10, 20, 30, 40], "title": "t", "titleY": 44}},
        "y": {"field": "v", "type": "quantitative", "scale": {"domain": [0, 2.2], "nice": false}, "axis": {"values": [0, 0.5, 1, 1.5, 2], "labels": false, "title": null}},
        "color": {"field": "bubble", "type": "nominal", "title": null, "scale": {"domain": ["Merged bubble"], "range": ["#ff0000"]}},
        "strokeDash": {"field": "fluid", "type": "nominal", "scale": {"domain": ["Shear-thinning", "Newtonian"], "range": [[1, 0], [6, 4]]}, "legend": null}
      }
    }
  ],
  "resolve": {
    "scale": {"color": "independent", "strokeDash": "independent"},
    "legend": {"color": "independent", "strokeDash": "independent"}
  },
  "config": {
    "font": "DejaVu Serif",
    "view": {"stroke": "#222222", "strokeWidth": 1},
    "axis": {
      "domain": false,
      "ticks": false,
      "grid": true,
      "gridColor": "#c8c8c8",
      "gridWidth": 1,
      "labelFont": "DejaVu Serif",
      "labelFontSize": 17,
      "labelColor": "black",
      "labelPadding": 7,
      "labelFlush": false,
      "labelOverlap": false,
      "titleFont": "DejaVu Serif",
      "titleFontSize": 19,
      "titleFontStyle": "italic",
      "titleFontWeight": "normal",
      "titleColor": "black",
      "titleBaseline": "middle"
    },
    "legend": {
      "orient": "top-right",
      "offset": 4,
      "strokeColor": "#222222",
      "fillColor": "white",
      "padding": 5,
      "cornerRadius": 0,
      "labelFont": "DejaVu Serif",
      "labelFontSize": 17,
      "labelColor": "black",
      "labelOffset": 6,
      "symbolType": "stroke",
      "symbolSize": 900,
      "symbolStrokeWidth": 2.2,
      "rowPadding": 0
    }
  }
}
